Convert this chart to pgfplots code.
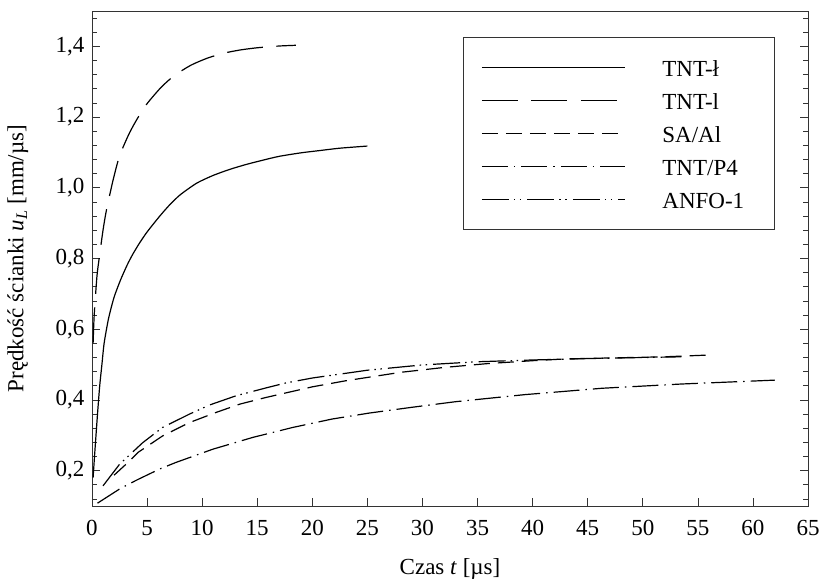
\documentclass[border=0pt]{standalone}
\usepackage{fontspec}
\setmainfont{Liberation Serif}
\usepackage{pgfplots}
\pgfplotsset{compat=1.18}
\newcommand{\fs}{\fontsize{23}{27}\selectfont}
\newcommand{\legent}[1]{\makebox[92pt][l]{\strut #1}}
\begin{document}
\begin{tikzpicture}
\begin{axis}[
  scale only axis, width=716pt, height=495pt,
  xmin=0, xmax=65, ymin=0.1, ymax=1.5,
  xtick={0,5,...,65},
  ytick={0.2,0.4,0.6,0.8,1.0,1.2,1.4},
  minor ytick={0.12,0.16,0.24,0.28,0.32,0.36,0.44,0.48,0.52,0.56,0.64,0.68,0.72,0.76,0.84,0.88,0.92,0.96,1.04,1.08,1.12,1.16,1.24,1.28,1.32,1.36,1.44,1.48},
  tick align=inside, xtick pos=left, ytick pos=both,
  major tick length=8pt, minor tick length=5pt,
  axis line style={line width=0.8pt, black!80},
  every tick/.style={line width=0.7pt, black!80},
  /pgf/number format/assume math mode=true,
  tick label style={font=\fs},
  yticklabel style={/pgf/number format/.cd, fixed, fixed zerofill, precision=1, use comma, /tikz/.cd, xshift=-4pt},
  xticklabel style={yshift=-10.5pt},
  label style={font=\fs},
  xlabel={Czas \textit{t} [µs]},
  ylabel={Prędkość ścianki \textit{u}\textsubscript{\textit{L}} [mm/µs]},
  xlabel style={at={(axis description cs:0.5,-0.127)}, anchor=center},
  ylabel style={at={(axis description cs:-0.1035,0.5)}, anchor=center},
  legend style={at={(0.518,0.947)}, anchor=north west, draw=black!80, line width=0.7pt,
    inner xsep=18pt, inner ysep=18pt, font=\fs, row sep=8.5pt,
    /tikz/every odd column/.append style={column sep=35pt}},
  legend cell align=left,
  legend image code/.code={\draw[#1] (0pt,0pt) -- (143pt,0pt);},
]
\addplot[black, line width=1.2pt, smooth, tension=0.4] coordinates {
(0.1,0.18) (0.25,0.25) (0.5,0.36) (0.7,0.44) (0.9,0.50) (1.1,0.56) (1.5,0.63) (2.0,0.69) (2.6,0.74) (3.2,0.782) (3.7,0.812) (4.3,0.843) (5.0,0.875) (6.1,0.918) (7.0,0.95) (8.0,0.98) (9.5,1.013) (11,1.035) (12.5,1.052) (14,1.066) (15.5,1.078) (17,1.089) (19,1.099) (20.6,1.105) (22.5,1.112) (25,1.118)
};
\addlegendentry{\legent{TNT-ł}}
\addplot[black, line width=1.2pt, smooth, tension=0.4, dash pattern=on 36pt off 13.5pt] coordinates {
(0.1,0.56) (0.2,0.64) (0.45,0.75) (0.65,0.80) (1.0,0.88) (1.3,0.935) (1.9,1.02) (2.5,1.09) (3.4,1.155) (4.2,1.20) (5.0,1.238) (6.3,1.285) (7.5,1.318) (9.0,1.347) (10.5,1.367) (12,1.381) (13.5,1.39) (15,1.396) (17,1.401) (18.5,1.403)
};
\addlegendentry{\legent{TNT-l}}
\addplot[black, line width=1.2pt, dash pattern=on 16pt off 8pt] coordinates {
(2.0,0.187) (3.5,0.23) (4.2,0.252) (6.4,0.298) (8.85,0.336) (11.3,0.365) (13.4,0.388) (15.8,0.407) (20,0.437) (23,0.454) (28,0.478) (32,0.492) (36,0.503) (40,0.511) (43,0.516) (46,0.518) (49,0.520) (52,0.522) (56,0.527)
};
\addlegendentry{\legent{SA/Al}}
\addplot[black, line width=1.2pt, dash pattern=on 26pt off 6pt on 1.5pt off 6pt] coordinates {
(0.5,0.108) (2.6,0.15) (4.1,0.174) (6.1,0.204) (7.6,0.223) (11,0.261) (14.6,0.294) (18.2,0.322) (21.8,0.346) (25.2,0.363) (29,0.379) (33,0.395) (39.3,0.415) (46.3,0.433) (53.5,0.445) (62,0.456)
};
\addlegendentry{\legent{TNT/P4}}
\addplot[black, line width=1.2pt, dash pattern=on 27pt off 5pt on 1.5pt off 4.5pt on 1.5pt off 6pt] coordinates {
(1.0,0.157) (2.5,0.218) (4.6,0.279) (6.4,0.322) (8.85,0.36) (10.7,0.386) (13.1,0.412) (15.8,0.434) (17.6,0.448) (20,0.462) (25,0.484) (30,0.499) (35,0.508) (40,0.513) (45,0.517) (50,0.520) (53.5,0.522)
};
\addlegendentry{\legent{ANFO-1}}
\end{axis}
\path ([xshift=-92pt,yshift=-74pt]current axis.south west) rectangle ([xshift=16pt,yshift=11pt]current axis.north east);
\end{tikzpicture}
\end{document}
